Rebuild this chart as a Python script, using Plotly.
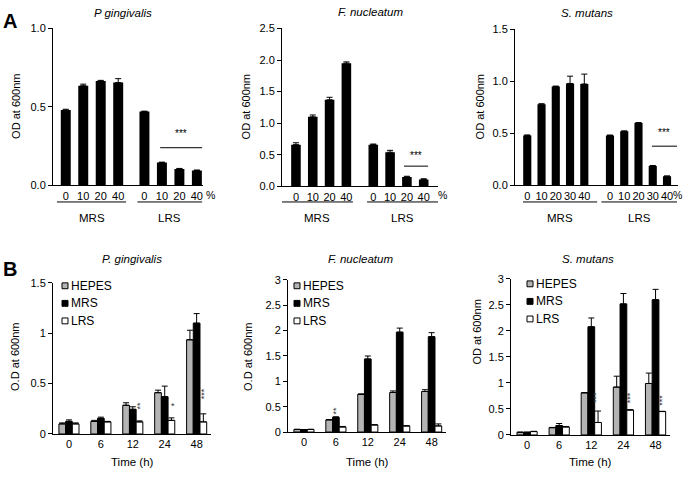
import plotly.graph_objects as go

W, H = 685, 478
FONT = "Liberation Sans, Arial, sans-serif"

# ---------------- Panel A data ----------------
pct_4 = ["0", "10", "20", "40"]
pct_5 = ["0", "10", "20", "30", "40"]

pg_mrs = [0.48, 0.635, 0.665, 0.655]
pg_mrs_err = [0.005, 0.01, 0.004, 0.025]
pg_lrs = [0.47, 0.145, 0.105, 0.095]
pg_lrs_err = [0.003, 0.003, 0.003, 0.003]

fn_mrs = [0.66, 1.10, 1.37, 1.95]
fn_mrs_err = [0.03, 0.03, 0.04, 0.02]
fn_lrs = [0.66, 0.54, 0.15, 0.11]
fn_lrs_err = [0.01, 0.03, 0.01, 0.01]

sm_mrs = [0.48, 0.78, 0.95, 0.98, 0.975]
sm_mrs_err = [0.005, 0.005, 0.005, 0.07, 0.095]
sm_lrs = [0.48, 0.52, 0.60, 0.187, 0.087]
sm_lrs_err = [0.004, 0.004, 0.004, 0.004, 0.004]

# ---------------- Panel B data ----------------
times = ["0", "6", "12", "24", "48"]
series = ["HEPES", "MRS", "LRS"]

b_pg_hepes = [0.10, 0.125, 0.285, 0.41, 0.935]
b_pg_hepes_err = [0.01, 0.01, 0.025, 0.025, 0.095]
b_pg_mrs = [0.125, 0.155, 0.245, 0.37, 1.10]
b_pg_mrs_err = [0.015, 0.012, 0.025, 0.105, 0.095]
b_pg_lrs = [0.10, 0.12, 0.12, 0.135, 0.12]
b_pg_lrs_err = [0.01, 0.005, 0.01, 0.025, 0.08]

b_fn_hepes = [0.05, 0.24, 0.745, 0.78, 0.80]
b_fn_hepes_err = [0.005, 0.005, 0.005, 0.03, 0.035]
b_fn_mrs = [0.045, 0.29, 1.44, 1.97, 1.88]
b_fn_mrs_err = [0.005, 0.01, 0.06, 0.08, 0.08]
b_fn_lrs = [0.05, 0.10, 0.14, 0.12, 0.12]
b_fn_lrs_err = [0.005, 0.01, 0.005, 0.005, 0.04]

b_sm_hepes = [0.05, 0.14, 0.81, 0.92, 0.99]
b_sm_hepes_err = [0.005, 0.005, 0.005, 0.21, 0.20]
b_sm_mrs = [0.05, 0.18, 2.08, 2.52, 2.60]
b_sm_mrs_err = [0.005, 0.04, 0.17, 0.20, 0.20]
b_sm_lrs = [0.065, 0.155, 0.24, 0.48, 0.45]
b_sm_lrs_err = [0.005, 0.005, 0.22, 0.005, 0.005]


def px(p):
    return p / W


def py(p):
    return 1 - p / H


fig = go.Figure()
annotations = []
shapes = []
layout = dict(
    width=W, height=H, margin=dict(l=0, r=0, t=0, b=0),
    paper_bgcolor="white", plot_bgcolor="white",
    barmode="group", bargap=0.37, bargroupgap=0,
    font=dict(family=FONT, size=11, color="black"),
    showlegend=False,
)


def ann(text, x, y, size=11, angle=0, xref="paper", yref="paper", xanchor="center", color="black"):
    annotations.append(dict(text=text, x=x, y=y, xref=xref, yref=yref, showarrow=False,
                            textangle=angle, xanchor=xanchor, yanchor="middle",
                            font=dict(family=FONT, size=size, color=color)))


def axes(i, dom_x, dom_y, xrange, yrange, dtick, tickvals, ticktext, yfmt):
    xs = "xaxis" if i == 1 else f"xaxis{i}"
    ys = "yaxis" if i == 1 else f"yaxis{i}"
    yid = "y" if i == 1 else f"y{i}"
    xid = "x" if i == 1 else f"x{i}"
    layout[xs] = dict(domain=[px(dom_x[0]), px(dom_x[1])], range=list(xrange), anchor=yid,
                      showline=True, linecolor="black", linewidth=1, ticks="",
                      tickvals=tickvals, ticktext=ticktext, showgrid=False, zeroline=False,
                      tickfont=dict(size=11), fixedrange=True)
    layout[ys] = dict(domain=[py(dom_y[1]), py(dom_y[0])], range=list(yrange), anchor=xid,
                      showline=True, linecolor="black", linewidth=1, ticks="outside",
                      ticklen=4, tickcolor="black", dtick=dtick, tick0=0, tickformat=yfmt,
                      showgrid=False, zeroline=False, tickfont=dict(size=11), fixedrange=True)
    return xid, yid


# ---------------- Panel A ----------------
panelsA = [
    dict(title="P gingivalis", labels=pct_4, mrs=pg_mrs, mrs_err=pg_mrs_err, lrs=pg_lrs, lrs_err=pg_lrs_err,
         off=4.5, dom_x=(53, 203), dom_y=(23, 184), xr=(-0.73, 7.85), yr=(0, 1.0),
         title_xy=(123, 7), ytitle_x=16, spans=[(-0.5, 3.45), (4.1, 7.8)],
         sig=(5.4, 7.8, 0.24, 0.33), pct_x=210),
    dict(title="F. nucleatum", labels=pct_4, mrs=fn_mrs, mrs_err=fn_mrs_err, lrs=fn_lrs, lrs_err=fn_lrs_err,
         off=4.6, dom_x=(282, 438), dom_y=(23, 185), xr=(-0.83, 8.45), yr=(0, 2.5),
         title_xy=(370, 6), ytitle_x=246, spans=[(-0.83, 3.39), (4.23, 8.45)],
         sig=(6.43, 7.86, 0.32, 0.49), pct_x=442),
    dict(title="S. mutans", labels=pct_5, mrs=sm_mrs, mrs_err=sm_mrs_err, lrs=sm_lrs, lrs_err=sm_lrs_err,
         off=5.8, dom_x=(515, 678), dom_y=(24, 184), xr=(-0.86, 10.57), yr=(0, 1.5),
         title_xy=(587, 7), ytitle_x=480, spans=[(-0.3, 4.9), (5.2, 10.5)],
         sig=(8.74, 10.5, 0.377, 0.51), pct_x=677),
]

for k, p in enumerate(panelsA):
    i = k + 1
    n = len(p["labels"])
    pos = list(range(n)) + [p["off"] + j for j in range(n)]
    xid, yid = axes(i, p["dom_x"], p["dom_y"], p["xr"], p["yr"], 0.5, pos,
                    p["labels"] + p["labels"], ".1f")
    vals = p["mrs"] + p["lrs"]
    errs = p["mrs_err"] + p["lrs_err"]
    fig.add_trace(go.Bar(x=pos, y=vals, width=0.57, xaxis=xid, yaxis=yid,
                         marker=dict(color="black", line=dict(width=0)),
                         error_y=dict(type="data", array=errs, symmetric=False,
                                      arrayminus=[0] * len(errs), color="black",
                                      thickness=1, width=3),
                         showlegend=False, hoverinfo="skip"))
    ann(f"<i>{p['title']}</i>", px(p["title_xy"][0]), py(p["title_xy"][1]), size=11.5)
    ann("OD at 600nm", px(p["ytitle_x"]), py((p["dom_y"][0] + p["dom_y"][1]) / 2), size=11, angle=-90)
    for (a, b), name in zip(p["spans"], ["MRS", "LRS"]):
        shapes.append(dict(type="line", xref=xid, yref="paper", x0=a, x1=b,
                           y0=py(201), y1=py(201), line=dict(color="black", width=1)))
        ann(name, (a + b) / 2, py(217), size=11.5, xref=xid)
    ann("%", px(p["pct_x"]), py(194), size=10.5)
    s0, s1, sy, ty = p["sig"]
    shapes.append(dict(type="line", xref=xid, yref=yid, x0=s0, x1=s1, y0=sy, y1=sy,
                       line=dict(color="black", width=1)))
    ann("***", (s0 + s1) / 2, ty, size=10, xref=xid, yref=yid)

# ---------------- Panel B ----------------
colors = ["#b4b4b4", "black", "white"]
panelsB = [
    dict(title="P. gingivalis", ytitle="O.D at 600nm",
         data=[(b_pg_hepes, b_pg_hepes_err), (b_pg_mrs, b_pg_mrs_err), (b_pg_lrs, b_pg_lrs_err)],
         dom_x=(53, 211), dom_y=(284, 439), yr=(0, 1.5), title_x=132, ytitle_x=15, ytitle_y=360,
         leg_x=65, leg_y=287, sig=[(2.22, 0.28, "**", -90), (3.25, 0.28, "*", 0), (4.22, 0.40, "***", -90)]),
    dict(title="F. nucleatum", ytitle="O.D at 600nm",
         data=[(b_fn_hepes, b_fn_hepes_err), (b_fn_mrs, b_fn_mrs_err), (b_fn_lrs, b_fn_lrs_err)],
         dom_x=(288, 446), dom_y=(281, 437), yr=(0, 3), title_x=361, ytitle_x=248, ytitle_y=360,
         leg_x=297, leg_y=287, sig=[(1.0, 0.42, "**", -90)]),
    dict(title="S. mutans", ytitle="OD at 600nm",
         data=[(b_sm_hepes, b_sm_hepes_err), (b_sm_mrs, b_sm_mrs_err), (b_sm_lrs, b_sm_lrs_err)],
         dom_x=(511, 670), dom_y=(280, 440), yr=(0, 3), title_x=588, ytitle_x=477, ytitle_y=335,
         leg_x=530, leg_y=285, sig=[(2.13, 0.72, "***", -90), (3.2, 0.72, "***", -90), (4.19, 0.67, "***", -90)]),
]

LEG_STEP = 18
for k, p in enumerate(panelsB):
    i = k + 4
    xid, yid = axes(i, p["dom_x"], p["dom_y"], (-0.5, 4.45), p["yr"], 0.5,
                    list(range(len(times))), times, "")
    for j, ((vals, errs), name, col) in enumerate(zip(p["data"], series, colors)):
        fig.add_trace(go.Bar(x=list(range(len(times))), y=vals, name=name, xaxis=xid, yaxis=yid,
                             marker=dict(color=col, line=dict(color="black", width=1)),
                             error_y=dict(type="data", array=errs, symmetric=False,
                                          arrayminus=[0] * len(errs), color="black",
                                          thickness=1, width=3),
                             showlegend=False, hoverinfo="skip"))
        # legend key (small square + label)
        cy = p["leg_y"] + j * LEG_STEP
        cx = p["leg_x"]
        shapes.append(dict(type="rect", xref="paper", yref="paper",
                           x0=px(cx - 3), x1=px(cx + 3), y0=py(cy + 3), y1=py(cy - 3),
                           fillcolor=col, line=dict(color="black", width=1)))
        ann(name, px(cx + 4), py(cy), size=12, xanchor="left")
    ann(f"<i>{p['title']}</i>", px(p["title_x"]), py(260), size=11.5)
    ann(p["ytitle"], px(p["ytitle_x"]), py(p["ytitle_y"]), size=11, angle=-90)
    ann("Time (h)", px((p["dom_x"][0] + p["dom_x"][1]) / 2), py(468), size=11.5)
    for sx, sy, txt, ang in p["sig"]:
        ann(txt, sx, sy, size=9, angle=ang, xref=xid, yref=yid, color="#333")

ann("<b>A</b>", px(10), py(15), size=20)
ann("<b>B</b>", px(10), py(270), size=20)

layout["annotations"] = annotations
layout["shapes"] = shapes
fig.update_layout(**layout)
fig.write_html("out.html", config={"displayModeBar": False},
               post_script="document.body.style.margin='0';")
